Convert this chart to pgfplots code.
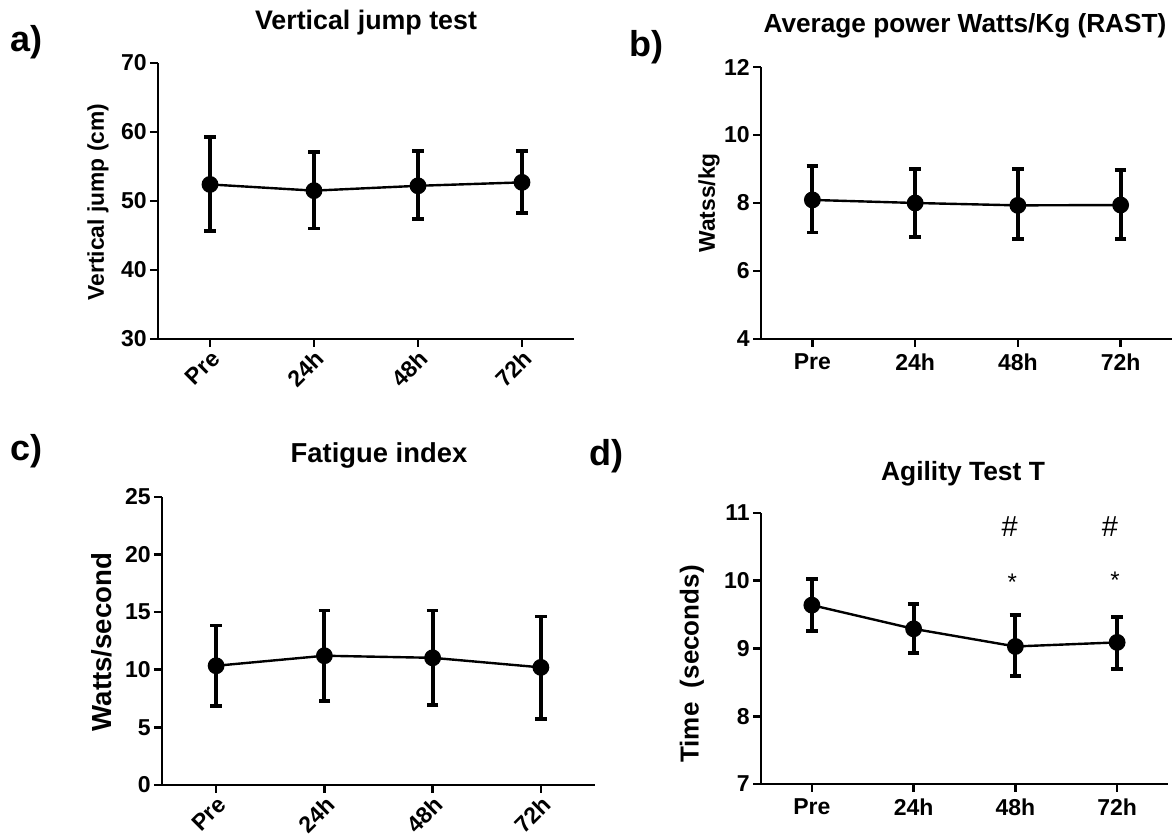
\documentclass[border=0pt]{standalone}
\usepackage{fontspec}
\setmainfont{Liberation Sans}
\usepackage{pgfplots}
\pgfplotsset{compat=1.18}

\pgfplotsset{
 gp/.style={
  scale only axis,
  axis lines=left,
  axis line style={-, line width=1.3pt},
  tick align=outside,
  major tick length=4pt,
  tick style={line width=1.3pt, black},
  xmin=-0.5, xmax=3.5,
  xtick={0,1,2,3},
  xticklabels={Pre,24h,48h,72h},
  ticklabel style={font=\fontsize{11.5}{13}\selectfont\bfseries},
  yticklabel style={inner sep=1.5pt},
  /pgf/number format/assume math mode=true,
  clip=false,
  anchor=south west,
 },
 rotx/.style={xticklabel style={rotate=45, anchor=north east, inner sep=0.5pt}},
 gpline/.style={black, line width=1.2pt, mark=*, mark size=3.6pt,
   mark options={solid, fill=black},
   error bars/.cd, y dir=both, y explicit,
   error bar style={line width=1.9pt},
   error mark options={rotate=90, mark size=2.9pt, line width=1.9pt}},
}

\begin{document}
\begin{tikzpicture}
\useasboundingbox (0,0) rectangle (586.5pt,419.5pt);

% ---------- a) ----------
\begin{axis}[gp, rotx, at={(79pt,250pt)}, width=208pt, height=138pt,
  ymin=30, ymax=70, ytick={30,40,50,60,70}]
\addplot[gpline] table[x=x, y=y, y error plus=ep, y error minus=em] {
x y ep em
0 52.4 6.9 6.8
1 51.5 5.6 5.5
2 52.2 5.0 4.8
3 52.7 4.5 4.4
};
\end{axis}

% ---------- b) ----------
\begin{axis}[gp, at={(380.5pt,250pt)}, width=205.5pt, height=136pt,
  ymin=4, ymax=12, ytick={4,6,8,10,12}]
\addplot[gpline] table[x=x, y=y, y error plus=ep, y error minus=em] {
x y ep em
0 8.09 1.00 0.96
1 8.00 0.99 0.99
2 7.93 1.06 1.00
3 7.94 1.03 0.99
};
\end{axis}

% ---------- c) ----------
\begin{axis}[gp, rotx, at={(81pt,27pt)}, width=216.5pt, height=144pt,
  ymin=0, ymax=25, ytick={0,5,10,15,20,25}]
\addplot[gpline] table[x=x, y=y, y error plus=ep, y error minus=em] {
x y ep em
0 10.35 3.49 3.52
1 11.22 3.92 3.95
2 11.04 4.10 4.09
3 10.21 4.41 4.47
};
\end{axis}

% ---------- d) ----------
\begin{axis}[gp, at={(380.5pt,27.5pt)}, width=203.5pt, height=135.5pt,
  ymin=7, ymax=11, ytick={7,8,9,10,11}]
\addplot[gpline] table[x=x, y=y, y error plus=ep, y error minus=em] {
x y ep em
0 9.64 0.39 0.38
1 9.29 0.37 0.36
2 9.03 0.46 0.44
3 9.09 0.37 0.39
};
\node[anchor=base, font=\fontsize{14.5}{16}\selectfont] at (axis cs:1.945,10.66) {\#};
\node[anchor=base, font=\fontsize{14.5}{16}\selectfont] at (axis cs:2.93,10.66) {\#};
\node[anchor=base, font=\fontsize{12}{14}\selectfont] at (axis cs:1.97,9.85) {*};
\node[anchor=base, font=\fontsize{12}{14}\selectfont] at (axis cs:2.98,9.88) {*};
\end{axis}

% titles
\node[anchor=base, font=\fontsize{13.4}{15}\selectfont\bfseries] at (183pt,404.5pt) {Vertical jump test};
\node[anchor=base, font=\fontsize{13.1}{15}\selectfont\bfseries] at (482.5pt,403pt) {Average power Watts/Kg (RAST)};
\node[anchor=base, font=\fontsize{13.7}{16}\selectfont\bfseries] at (189.5pt,188pt) {Fatigue index};
\node[anchor=base, font=\fontsize{13.2}{15}\selectfont\bfseries] at (481.5pt,179pt) {Agility Test T};

% panel letters
\node[anchor=base west, inner sep=0pt, font=\fontsize{18}{20}\selectfont\bfseries] at (5pt,393.5pt) {a)};
\node[anchor=base west, inner sep=0pt, font=\fontsize{18}{20}\selectfont\bfseries] at (314.5pt,391pt) {b)};
\node[anchor=base west, inner sep=0pt, font=\fontsize{18}{20}\selectfont\bfseries] at (5pt,189pt) {c)};
\node[anchor=base west, inner sep=0pt, font=\fontsize{18}{20}\selectfont\bfseries] at (294.5pt,186.5pt) {d)};

% y labels
\node[rotate=90, font=\fontsize{11.4}{13}\selectfont\bfseries] at (49pt,318.5pt) {Vertical jump (cm)};
\node[rotate=90, font=\fontsize{11.4}{13}\selectfont\bfseries] at (354.5pt,318pt) {Watss/kg};
\node[rotate=90, font=\fontsize{13.8}{16}\selectfont\bfseries] at (51pt,98.5pt) {Watts/second};
\node[rotate=90, font=\fontsize{13}{15}\selectfont\bfseries] at (346pt,87.5pt) {Time~~(seconds)};
\end{tikzpicture}
\end{document}
